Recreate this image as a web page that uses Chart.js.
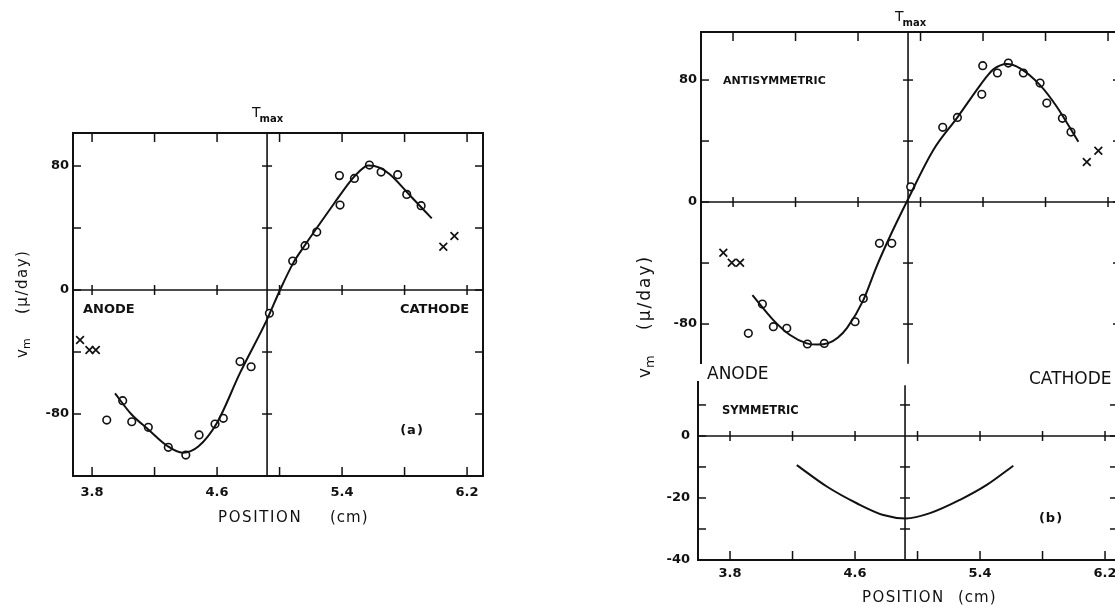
<!DOCTYPE html>
<html>
<head>
<meta charset="utf-8">
<script src="https://cdn.jsdelivr.net/npm/chart.js@4.4.1/dist/chart.umd.min.js"></script>
<style>
  html, body { margin: 0; padding: 0; background: #fff; overflow: hidden; width: 1115px; height: 607px; }
  .box { position: absolute; }
</style>
</head>
<body>
<div class="box" style="left:0;top:0;width:560px;height:607px"><canvas id="chartA"></canvas></div>
<div class="box" style="left:620px;top:0;width:540px;height:385px"><canvas id="chartB"></canvas></div>
<div class="box" style="left:617px;top:360px;width:540px;height:247px"><canvas id="chartC"></canvas></div>
<script>
// ---- data ----
const tmaxPos = 4.92;
const xTickVals = [3.8, 4.2, 4.6, 5.0, 5.4, 5.8, 6.2];
const xTickLabels = [3.8, 4.6, 5.4, 6.2];

// (a)
const aYTicks = [-80, -40, 0, 40, 80];
const aYLabels = [-80, 0, 80];
const aCircX = [3.894, 3.996, 4.054, 4.16, 4.288, 4.40, 4.485, 4.587, 4.64, 4.747, 4.818, 4.935, 5.084, 5.163, 5.238, 5.383, 5.387, 5.479, 5.575, 5.65, 5.756, 5.814, 5.906];
const aCircY = [-83.9, -71.4, -85, -88.6, -101.5, -106.5, -93.5, -86.5, -82.8, -46.2, -49.5, -15, 18.7, 28.6, 37.4, 73.8, 54.8, 72, 80.6, 76.1, 74.4, 61.7, 54.4];
const aCrossX = [3.723, 3.783, 3.824, 6.048, 6.119];
const aCrossY = [-32.3, -38.7, -38.7, 27.9, 34.8];
const aCurveX = [3.947, 4.05, 4.16, 4.28, 4.38, 4.48, 4.598, 4.747, 4.918, 5.003, 5.088, 5.163, 5.238, 5.35, 5.451, 5.505, 5.568, 5.64, 5.707, 5.835, 5.974];
const aCurveY = [-66.7, -80, -90, -100.5, -105, -101, -86, -53.5, -19.4, 0, 17.5, 29, 40, 56, 70, 76, 80.3, 79, 74.5, 61, 46.2];

// (b) antisymmetric
const bYTicks = [-80, -40, 0, 40, 80];
const bYLabels = [-80, 0, 80];
const bCircX = [3.898, 3.988, 4.058, 4.144, 4.276, 4.384, 4.581, 4.634, 4.737, 4.816, 4.937, 5.142, 5.236, 5.398, 5.392, 5.492, 5.562, 5.658, 5.765, 5.808, 5.908, 5.963];
const bCircY = [-86.1, -66.9, -81.7, -82.8, -93.1, -92.7, -78.5, -63.2, -27.1, -27.1, 10, 49, 55.5, 89.4, 70.6, 84.6, 91.1, 84.6, 78, 64.9, 54.9, 45.9];
const bCrossX = [3.738, 3.792, 3.845, 6.064, 6.138];
const bCrossY = [-33.2, -39.8, -39.8, 26.2, 33.6];
const bCurveX = [3.924, 4.058, 4.165, 4.272, 4.34, 4.41, 4.47, 4.53, 4.634, 4.72, 4.816, 4.912, 5.082, 5.236, 5.381, 5.43, 5.466, 5.552, 5.637, 5.765, 5.872, 6.01];
const bCurveY = [-61, -77.4, -87.2, -92.7, -93.5, -92.5, -89, -82.5, -64.3, -42, -20, 0.2, 34.1, 55.5, 76.5, 83, 87, 90.5, 87.7, 76.7, 62.5, 39.5];

// (b) symmetric
const cYTicks = [-40, -30, -20, -10, 0, 10];
const cYLabels = [-40, -20, 0];
const cCurveX = [4.227, 4.419, 4.611, 4.781, 4.924, 5.08, 5.272, 5.443, 5.613];
const cCurveY = [-9.4, -16.3, -21.7, -25.5, -26.6, -24.9, -20.6, -15.8, -9.6];

const zip = (xs, ys) => xs.map((x, i) => ({ x: x, y: ys[i] }));
const FONT = "'DejaVu Sans', 'Liberation Sans', sans-serif";

// draws the frame, inward ticks, zero line, Tmax line and the text notes
const paperAxes = {
  id: 'paperAxes',
  beforeDatasetsDraw(chart, args, o) {
    const ctx = chart.ctx, a = chart.chartArea, sx = chart.scales.x, sy = chart.scales.y;
    const line = (x1, y1, x2, y2) => { ctx.beginPath(); ctx.moveTo(x1, y1); ctx.lineTo(x2, y2); ctx.stroke(); };
    ctx.save();
    ctx.strokeStyle = '#111';
    ctx.lineCap = 'square';
    ctx.lineWidth = 2;
    if (o.top) line(a.left, a.top, a.right, a.top);
    if (o.bottom) line(a.left, a.bottom, a.right, a.bottom);
    line(a.left, a.top, a.left, a.bottom);
    line(a.right, a.top, a.right, a.bottom);
    const zy = sy.getPixelForValue(0);
    const tx = sx.getPixelForValue(tmaxPos);
    ctx.lineWidth = 1.6;
    line(a.left, zy, a.right, zy);
    line(tx, a.top + (o.tmaxGap || 0), tx, a.bottom);
    ctx.lineWidth = 1.5;
    ctx.lineCap = 'butt';
    xTickVals.forEach(v => {
      const px = sx.getPixelForValue(v);
      if (o.top) line(px, a.top, px, a.top + 9);
      if (o.bottom) line(px, a.bottom, px, a.bottom - 9);
      line(px, zy - 5, px, zy + 5);
    });
    o.yTicks.forEach(v => {
      const py = sy.getPixelForValue(v);
      line(a.left, py, a.left + 8, py);
      line(a.right, py, a.right - 8, py);
      if (v !== 0) line(tx - 5, py, tx + 5, py);
    });
    ctx.restore();
  },
  afterDraw(chart, args, o) {
    const ctx = chart.ctx;
    ctx.save();
    ctx.fillStyle = '#111';
    ctx.textBaseline = 'middle';
    (o.texts || []).forEach(t => {
      ctx.font = t.font;
      ctx.letterSpacing = t.ls || '0px';
      ctx.textAlign = t.align || 'left';
      ctx.fillText(t.text, t.x, t.y);
    });
    ctx.letterSpacing = '0px';
    if (o.tmaxLabel) {
      const p = o.tmaxLabel;
      ctx.textAlign = 'left';
      ctx.font = '14px ' + FONT;
      const w1 = ctx.measureText('T').width;
      ctx.font = 'bold 10px ' + FONT;
      const w2 = ctx.measureText('max').width;
      const x0 = p.x - (w1 + w2) / 2;
      ctx.font = '14px ' + FONT;
      ctx.fillText('T', x0, p.y - 3);
      ctx.font = 'bold 10px ' + FONT;
      ctx.fillText('max', x0 + w1 - 1, p.y + 3);
    }
    if (o.yTitle) {
      const p = o.yTitle;
      ctx.translate(p.x, p.y);
      ctx.rotate(-Math.PI / 2);
      ctx.textAlign = 'left';
      ctx.font = p.size + 'px ' + FONT;
      ctx.fillText('v', 0, 0);
      const wv = ctx.measureText('v').width;
      ctx.font = Math.round(p.size * 0.75) + 'px ' + FONT;
      ctx.fillText('m', wv, p.size * 0.3);
      ctx.font = p.size + 'px ' + FONT;
      ctx.letterSpacing = p.ls;
      ctx.fillText('(\u03BC/day)', p.start, 0);
    }
    ctx.restore();
  }
};
Chart.register(paperAxes);

function xScale(min, max, show, height, pad) {
  return {
    type: 'linear', min: min, max: max, display: show,
    afterBuildTicks: s => { s.ticks = xTickVals.map(v => ({ value: v })); },
    afterFit: s => { s.height = height; },
    grid: { display: false, drawTicks: false }, border: { display: false },
    ticks: {
      autoSkip: false, maxRotation: 0, padding: pad, color: '#111',
      font: { family: FONT, size: 13, weight: 'bold' },
      callback: v => xTickLabels.includes(v) ? v.toFixed(1) : ''
    }
  };
}
function yScale(min, max, ticks, labels, width, pad) {
  return {
    type: 'linear', min: min, max: max,
    afterBuildTicks: s => { s.ticks = ticks.map(v => ({ value: v })); },
    afterFit: s => { s.width = width; },
    grid: { display: false, drawTicks: false }, border: { display: false },
    ticks: {
      autoSkip: false, padding: pad, color: '#111',
      font: { family: FONT, size: 13, weight: 'bold' },
      callback: v => labels.includes(v) ? String(v) : ''
    }
  };
}
function curveSet(xs, ys) {
  return { data: zip(xs, ys), showLine: true, pointRadius: 0, borderColor: '#111', borderWidth: 2,
           cubicInterpolationMode: 'monotone', clip: false };
}
function circleSet(xs, ys) {
  return { data: zip(xs, ys), showLine: false, pointStyle: 'circle', pointRadius: 3.8, pointBorderWidth: 1.6,
           pointBorderColor: '#111', pointBackgroundColor: '#fff', clip: false };
}
function crossSet(xs, ys) {
  return { data: zip(xs, ys), showLine: false, pointStyle: 'crossRot', pointRadius: 5.5, pointBorderWidth: 1.7,
           pointBorderColor: '#111', clip: false };
}
const common = {
  responsive: true, maintainAspectRatio: false, animation: false, events: []
};

// panel (a)
new Chart(document.getElementById('chartA'), {
  type: 'scatter',
  data: { datasets: [curveSet(aCurveX, aCurveY), circleSet(aCircX, aCircY), crossSet(aCrossX, aCrossY)] },
  options: Object.assign({}, common, {
    layout: { padding: { left: 0, top: 133, right: 77, bottom: 0 } },
    scales: { x: xScale(3.678, 6.302, true, 131, 9), y: yScale(-120, 101.3, aYTicks, aYLabels, 73, 4) },
    plugins: {
      legend: { display: false }, tooltip: { enabled: false },
      paperAxes: {
        top: true, bottom: true, yTicks: aYTicks,
        tmaxLabel: { x: 268, y: 116 },
        yTitle: { x: 23, y: 358, size: 15, start: 44, ls: '1.5px' },
        texts: [
          { text: 'ANODE', x: 83, y: 310, font: 'bold 13px ' + FONT },
          { text: 'CATHODE', x: 400, y: 310, font: 'bold 13px ' + FONT },
          { text: '(a)', x: 412, y: 431, font: 'bold 13px ' + FONT, align: 'center', ls: '1px' },
          { text: 'POSITION', x: 218, y: 518, font: '15px ' + FONT, ls: '1.6px' },
          { text: '(cm)', x: 330, y: 518, font: '15px ' + FONT, ls: '1px' }
        ]
      }
    }
  })
});

// panel (b), antisymmetric part
new Chart(document.getElementById('chartB'), {
  type: 'scatter',
  data: { datasets: [curveSet(bCurveX, bCurveY), circleSet(bCircX, bCircY), crossSet(bCrossX, bCrossY)] },
  options: Object.assign({}, common, {
    layout: { padding: { left: 0, top: 32, right: 39, bottom: 22 } },
    scales: { x: xScale(3.595, 6.283, false, 0, 0), y: yScale(-105.55, 111.5, bYTicks, bYLabels, 81, 4) },
    plugins: {
      legend: { display: false }, tooltip: { enabled: false },
      paperAxes: {
        top: true, bottom: false, yTicks: bYTicks,
        tmaxLabel: { x: 291, y: 20 },
        yTitle: { x: 26, y: 378, size: 17, start: 48, ls: '2px' },
        texts: [
          { text: 'ANTISYMMETRIC', x: 103, y: 81, font: 'bold 11px ' + FONT }
        ]
      }
    }
  })
});

// panel (b), symmetric part
new Chart(document.getElementById('chartC'), {
  type: 'scatter',
  data: { datasets: [curveSet(cCurveX, cCurveY)] },
  options: Object.assign({}, common, {
    layout: { padding: { left: 0, top: 22, right: 39, bottom: 0 } },
    scales: { x: xScale(3.595, 6.283, true, 47, 6), y: yScale(-40, 17.4, cYTicks, cYLabels, 81, 8) },
    plugins: {
      legend: { display: false }, tooltip: { enabled: false },
      paperAxes: {
        top: false, bottom: true, yTicks: cYTicks, tmaxGap: 4,
        texts: [
          { text: 'ANODE', x: 90, y: 15, font: '17px ' + FONT },
          { text: 'CATHODE', x: 412, y: 20, font: '17px ' + FONT },
          { text: 'SYMMETRIC', x: 105, y: 51, font: 'bold 11.5px ' + FONT },
          { text: '(b)', x: 434, y: 159, font: 'bold 13px ' + FONT, align: 'center', ls: '1px' },
          { text: 'POSITION', x: 245, y: 238, font: '15px ' + FONT, ls: '1.4px' },
          { text: '(cm)', x: 341, y: 238, font: '15px ' + FONT, ls: '1px' }
        ]
      }
    }
  })
});
</script>
</body>
</html>
